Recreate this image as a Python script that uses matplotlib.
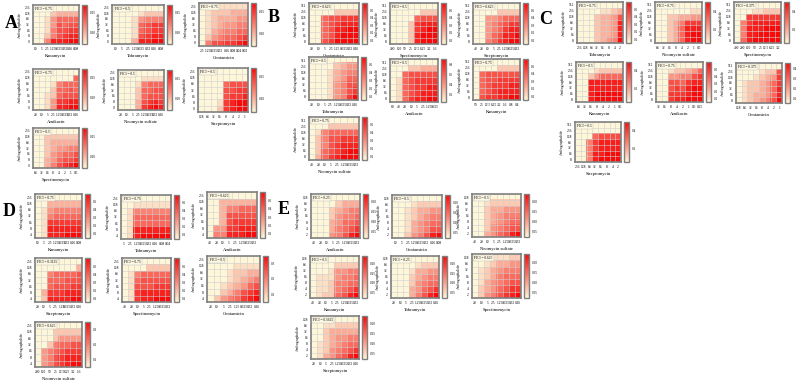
import matplotlib
matplotlib.use('Agg')
import matplotlib.pyplot as plt
import numpy as np
from matplotlib.colors import LinearSegmentedColormap

# ---------------- DATA (OD600 x 100) ----------------
A1 = [[7,7,7,7,7,7,7,7],[7,7,7,9,10,10,10,10],[7,7,8,11,13,13,13,13],[7,7,8,11,14,13,14,14],
      [7,7,8,12,14,14,15,15],[7,7,9,12,14,15,16,16],[7,7,12,16,16,16,17,17]]
A2 = [[7,7,7,7,7,7,7,7],[7,7,7,7,8,9,9,9],[7,7,7,8,11,12,12,12],[7,7,7,8,13,14,15,15],
      [7,7,7,8,13,14,15,15],[7,7,7,8,14,15,16,16],[7,7,7,10,16,16,17,17]]
A3 = [[7,7,8,8,8,8,8,8],[7,8,9,9,9,10,10,10],[7,8,9,10,10,10,11,11],[7,8,9,10,11,11,12,12],
      [7,8,10,11,12,12,13,13],[7,9,11,12,13,13,14,15],[7,12,14,14,15,15,16,17]]
A4 = [[7,7,7,7,7,7,7,7],[7,7,7,7,7,7,7,13],[7,7,7,8,12,13,13,13],[7,7,7,9,13,13,14,13],
      [7,7,8,9,13,14,14,14],[7,7,8,11,15,15,16,16],[7,7,8,11,16,16,17,17]]
A5 = [[7,7,7,7,7,7,7,7],[7,7,7,7,8,8,8,8],[7,7,7,8,12,13,13,13],[7,7,7,9,13,13,14,14],
      [7,7,7,9,13,14,14,14],[7,7,7,10,14,15,16,15],[7,7,7,10,15,16,17,16]]
A6 = [[7,7,7,7,7,7,7,7],[7,7,7,7,7,7,7,7],[7,7,7,7,13,14,14,14],[7,7,7,7,14,14,15,15],
      [7,7,7,7,14,15,15,16],[7,7,7,8,15,16,17,17],[7,7,7,9,15,16,17,17]]
A7 = [[7,7,7,7,7,7,7,7],[7,7,9,9,9,9,9,9],[7,7,9,10,10,10,10,10],[7,7,9,10,11,11,12,12],
      [7,7,9,11,12,13,13,14],[7,7,10,11,13,14,14,15],[7,7,10,12,14,15,16,17]]

B1 = [[5]*8,[5,5,5,5,16,16,16,16],[5,5,38,43,43,49,49,49],[5,5,38,43,49,54,54,54],
      [5,5,38,43,54,54,60,60],[5,5,38,43,54,60,60,60],[5,5,43,49,60,60,60,60]]
B2 = [[5]*8,[5,5,5,5,5,16,16,16],[5,5,5,5,38,43,43,43],[5,5,5,16,49,54,54,54],
      [5,5,5,16,49,54,60,60],[5,5,5,16,54,60,60,60],[5,5,5,16,54,60,60,60]]
B3 = [[5]*8,[5,5,5,5,16,16,16,16],[5,5,27,27,32,38,38,38],[5,5,27,32,38,43,49,49],
      [5,5,27,32,38,49,54,54],[5,5,27,38,43,54,54,60],[5,5,32,38,49,54,60,60]]
B4 = [[5]*8,[5,5,5,5,16,21,27,27],[5,5,5,10,21,27,32,32],[5,5,5,10,21,27,38,38],
      [5,5,5,10,27,32,43,43],[5,5,5,10,27,32,43,49],[5,5,5,10,27,32,49,60]]
B5 = [[5]*8,[5,5,5,22,22,31,31,31],[5,5,56,65,65,65,65,65],[5,14,56,65,73,73,73,73],
      [5,14,56,65,73,73,82,82],[5,14,56,65,73,82,82,82],[5,14,56,73,82,82,90,90]]
B6 = [[5]*8,[5,5,5,5,16,16,16,16],[5,38,43,43,43,43,43,43],[5,38,43,43,49,49,49,49],
      [5,38,43,49,49,49,54,54],[5,38,43,49,54,54,54,54],[5,43,49,49,54,54,60,60]]
B7 = [[5]*8,[5,5,5,16,16,16,16,16],[5,10,32,38,38,38,38,38],[5,16,32,43,43,49,49,49],
      [5,16,32,43,49,54,54,54],[5,16,38,43,49,54,60,60],[5,21,38,49,54,60,60,60]]

C1 = [[5]*8,[5,5,5,5,10,10,16,21],[5,5,5,16,21,21,27,43],[5,5,5,16,21,21,27,54],
      [5,5,5,16,21,21,27,54],[5,5,5,16,21,21,27,54],[5,5,5,16,21,27,32,60]]
C2 = [[5]*8,[5,5,5,5,5,5,10,10],[5,5,14,14,19,19,23,23],[5,5,14,19,28,41,41,41],
      [5,5,14,19,32,46,46,46],[5,5,14,19,32,46,50,50],[5,5,14,19,32,46,50,50]]
C3 = [[5]*8,[5,5,5,10,10,14,14,14],[5,5,41,41,41,41,41,41],[5,28,41,46,46,46,46,46],
      [5,28,46,46,46,50,50,50],[5,28,46,46,50,50,50,50],[5,32,46,50,50,50,50,50]]
C4 = [[5]*8,[5,5,5,10,14,14,14,14],[5,5,14,23,32,32,32,32],[5,5,46,46,46,46,46,46],
      [5,5,46,46,46,46,46,46],[5,5,46,50,50,50,50,50],[5,5,46,50,50,50,50,50]]
C5 = [[5]*8,[5,5,10,16,16,21,27,38],[5,5,27,27,32,32,43,49],[5,5,43,43,38,49,54,54],
      [5,5,43,49,43,54,60,60],[5,5,49,49,49,54,60,60],[5,5,49,54,54,60,60,60]]
C6 = [[5]*8,[5,5,5,5,9,13,13,33],[5,5,5,9,13,17,21,37],[5,9,13,13,17,21,29,37],
      [5,9,13,13,17,21,29,41],[5,9,13,17,17,21,29,41],[5,9,13,17,21,25,33,45]]
C7 = [[5]*8,[5]*8,[5,5,5,32,37,37,37,37],[5,5,28,41,46,46,46,46],
      [5,5,28,41,46,46,46,46],[5,5,28,46,46,50,50,50],[5,5,28,46,50,50,50,50]]

D1 = [[5]*8,[5,5,21,21,21,21,21,21],[5,10,27,32,32,32,32,32],[5,10,32,38,38,38,38,38],
      [5,10,49,49,49,49,49,49],[5,10,54,54,54,54,54,54],[5,10,54,54,54,60,60,60]]
D2 = [[5]*8,[5,5,10,10,10,10,10,10],[5,10,32,32,32,32,32,32],[5,10,38,38,38,38,38,38],
      [5,10,38,38,38,38,38,38],[5,10,54,54,54,54,54,54],[5,10,54,60,60,60,60,60]]
D3 = [[5]*8,[5,5,21,21,21,21,21,21],[5,5,21,32,32,38,38,38],[5,5,21,43,43,43,43,43],
      [5,5,21,43,49,49,49,49],[5,27,27,49,49,54,54,54],[5,32,32,54,54,54,60,60]]
D4 = [[5]*8,[5,5,5,5,5,5,5,21],[5,5,32,38,38,38,38,43],[5,5,38,38,38,43,43,43],
      [5,5,38,43,43,43,49,49],[5,21,49,49,49,54,54,54],[5,16,54,54,54,54,60,60]]
D5 = [[5]*8,[5,5,5,5,16,16,16,16],[5,10,32,38,38,38,38,38],[5,10,38,43,43,43,43,43],
      [5,10,43,43,43,49,49,49],[5,10,49,54,54,54,54,54],[5,10,49,54,54,60,60,60]]
D6 = [[5]*8,[5,5,5,5,8,8,8,8],[5,5,5,8,11,11,14,14],[5,5,5,8,11,14,17,20],
      [5,5,8,11,14,17,23,26],[5,5,11,14,20,26,29,32],[5,11,17,20,23,29,32,35]]
D7 = [[5]*8,[5,5,5,11,11,11,11,11],[5,5,5,11,17,17,17,17],[5,5,11,20,23,23,26,26],
      [5,17,20,23,26,29,29,29],[5,17,20,26,29,32,32,32],[5,17,20,26,29,32,35,35]]

E1 = [[2]*8,[2,2,2,2,6,9,9,9],[2,2,2,6,9,11,13,13],[2,2,2,6,11,13,13,15],
      [2,2,2,9,11,15,15,17],[2,2,2,9,13,15,17,20],[2,2,2,11,13,17,22,24]]
E2 = [[2]*8,[2,2,2,4,6,6,6,6],[2,2,4,6,9,9,11,11],[2,2,4,6,9,11,13,13],
      [2,2,4,9,11,13,15,15],[2,2,4,9,11,13,17,17],[2,2,6,11,13,17,22,24]]
E3 = [[2]*8,[2,2,4,6,6,6,6,6],[2,2,6,9,9,11,11,11],[2,2,6,9,11,13,13,13],
      [2,2,6,9,11,13,15,15],[2,2,6,11,13,15,17,17],[2,2,9,11,15,17,22,24]]
E4 = [[2]*8,[2,2,2,2,6,6,6,6],[2,2,2,4,11,11,13,13],[2,4,4,4,11,13,13,15],
      [2,4,4,6,13,13,15,15],[2,4,4,6,13,15,17,20],[2,4,6,6,15,17,22,24]]
E5 = [[2]*8,[2,2,2,2,4,6,6,6],[2,2,2,4,9,9,11,11],[2,2,2,6,9,11,13,13],
      [2,2,2,6,11,13,15,15],[2,2,2,9,11,15,17,20],[2,2,2,9,13,17,22,24]]
E6 = [[2,2,2,4,4,4,6,6],[2,2,4,6,9,9,11,11],[2,4,6,9,11,13,13,13],[2,4,6,9,13,15,15,15],
      [2,4,9,11,13,15,17,17],[2,6,9,11,15,17,20,20],[2,6,11,13,17,20,22,24]]
E7 = [[2]*8,[2,2,4,4,6,6,6,6],[2,2,6,9,9,9,9,9],[2,2,6,9,11,11,13,13],
      [2,4,6,9,11,13,15,15],[2,4,6,11,13,15,17,20],[2,4,9,11,15,17,22,24]]

A_xlabels = ['Kanamycin', 'Tobramycin', 'Gentamicin', 'Amikacin', 'Neomycin sulfate', 'Streptomycin', 'Spectinomycin']
B_xlabels = ['Gentamicin', 'Spectinomycin', 'Streptomycin', 'Tobramycin', 'Amikacin', 'Kanamycin', 'Neomycin sulfate']
C_xlabels = ['Tobramycin', 'Neomycin sulfate', 'Spectinomycin', 'Kanamycin', 'Amikacin', 'Gentamicin', 'Streptomycin']
D_xlabels = ['Kanamycin', 'Tobramycin', 'Amikacin', 'Streptomycin', 'Spectinomycin', 'Gentamicin', 'Neomycin sulfate']
E_xlabels = ['Amikacin', 'Gentamicin', 'Neomycin sulfate', 'Kanamycin', 'Tobramycin', 'Spectinomycin', 'Streptomycin']

A_fici = ['0.75', '0.5', '0.75', '0.75', '0.5', '0.5', '0.5']
B_fici = ['0.625', '0.5', '0.625', '0.5', '0.5', '0.75', '0.75']
C_fici = ['0.75', '0.75', '0.375', '0.5', '0.75', '0.375', '0.5']
D_fici = ['0.75', '0.75', '0.625', '0.3125', '0.75', '0.5', '0.625']
E_fici = ['0.25', '0.5', '0.5', '0.5', '0.25', '0.625', '0.5625']

A_yticks = ['256', '128', '64', '32', '16', '8', '0']
B_yticks = ['512', '256', '128', '64', '32', '16', '8']
C_yticks = ['512', '256', '128', '64', '32', '16', '8']
D_yticks = ['256', '128', '64', '32', '16', '8', '4']
E_yticks = ['128', '64', '32', '16', '8', '4', '2']

S10 = ['10', '5', '2.5', '1.25', '0.625', '0.32', '0.16', '0.08']
S20 = ['20', '10', '5', '2.5', '1.25', '0.625', '0.32', '0.16']
S40 = ['40', '20', '10', '5', '2.5', '1.25', '0.625', '0.32']
A_xticks = [S10, S10, ['2.5', '1.25', '0.625', '0.32', '0.16', '0.08', '0.04', '0.02'], S20, S20,
            ['128', '64', '32', '16', '8', '4', '2', '1'], ['64', '32', '16', '8', '4', '2', '1', '0.5']]
B_xticks = [S20, ['200', '100', '50', '25', '12.5', '6.25', '3.2', '1.6'], S40, S20,
            ['80', '40', '20', '10', '5', '2.5', '1.25', '0.625'],
            ['50', '25', '12.5', '6.25', '3.2', '1.6', '0.8', '0.4'], S40]
C_xticks = [['256', '128', '64', '32', '16', '8', '4', '2'], ['64', '32', '16', '8', '4', '2', '1', '0.5'],
            ['400', '200', '100', '50', '25', '12.5', '6.25', '3.2'], ['64', '32', '16', '8', '4', '2', '1', '0.5'],
            ['32', '16', '8', '4', '2', '1', '0.5', '0.25'], ['128', '64', '32', '16', '8', '4', '2', '1'],
            ['256', '128', '64', '32', '16', '8', '4', '2']]
D_xticks = [S10, ['5', '2.5', '1.25', '0.625', '0.32', '0.16', '0.08', '0.04'], S40, S20, S40, S20,
            ['200', '100', '50', '25', '12.5', '6.25', '3.2', '1.6']]
E_xticks = [S40, S10, S40, S40, S20, S20, S20]

T5 = [0.1, 0.2, 0.3, 0.4, 0.5]
A_cticks = [[0.10, 0.15]] * 7
B_cticks = [T5, T5, T5, T5, [0.2, 0.4, 0.6, 0.8], T5, T5]
C_cticks = [T5, [0.2, 0.4], [0.2, 0.4], [0.2, 0.4], T5, [0.1, 0.2, 0.3, 0.4], [0.2, 0.4]]
D_cticks = [T5, T5, T5, T5, T5, [0.1, 0.2, 0.3], [0.1, 0.2, 0.3]]
E_cticks = [[0.05, 0.10, 0.15, 0.20]] * 7

A_vals = [A1, A2, A3, A4, A5, A6, A7]
B_vals = [B1, B2, B3, B4, B5, B6, B7]
C_vals = [C1, C2, C3, C4, C5, C6, C7]
D_vals = [D1, D2, D3, D4, D5, D6, D7]
E_vals = [E1, E2, E3, E4, E5, E6, E7]

# ---------------- LAYOUT (pixel boxes x0, y0, x1, y1) ----------------
A_boxes = [(33, 5, 79, 44), (112, 5, 164, 44), (199, 3, 248, 46), (33, 69, 79, 110),
           (118, 70, 164, 110), (198, 68, 248, 112), (33, 128, 79, 168)]
B_boxes = [(309, 3, 359, 44), (390, 3, 438, 44), (473, 3, 520, 44), (309, 57, 358, 100),
           (390, 59, 438, 102), (473, 59, 520, 100), (309, 117, 359, 160)]
C_boxes = [(577, 2, 623, 43), (655, 2, 702, 43), (734, 2, 781, 43), (576, 62, 623, 102),
           (656, 62, 703, 102), (736, 63, 782, 103), (575, 122, 621, 162)]
D_boxes = [(35, 194, 82, 238), (121, 195, 171, 239), (207, 192, 257, 238), (35, 258, 82, 302),
           (122, 258, 171, 302), (207, 256, 260, 302), (35, 322, 82, 367)]
E_boxes = [(311, 194, 360, 238), (392, 195, 442, 238), (472, 194, 521, 237), (310, 256, 359, 298),
           (391, 256, 439, 298), (472, 254, 521, 298), (311, 316, 359, 359)]
letters = [('A', 11, 23), ('B', 274, 18), ('C', 546, 19), ('D', 9, 212), ('E', 284, 209)]

W, H = 798, 380
SERIF = ['Liberation Serif', 'DejaVu Serif']
plt.rcParams['font.family'] = SERIF

fig = plt.figure(figsize=(W / 100, H / 100), dpi=100)
fig.patch.set_facecolor('white')
cmap = LinearSegmentedColormap.from_list('fici', ['#FDF6D8', '#F80A0A'])
FRAME = '#808080'


def rect(box):
    x0, y0, x1, y1 = box
    return [x0 / W, 1 - y1 / H, (x1 - x0) / W, (y1 - y0) / H]


def panel(box, vals, xt, yt, xlabel, fici, cticks):
    ax = fig.add_axes(rect(box))
    data = np.array(vals, dtype=float) / 100.0
    nr, nc = data.shape
    im = ax.imshow(data, cmap=cmap, vmin=data.min(), vmax=data.max(),
                   aspect='auto', interpolation='nearest')
    ax.set_xticks(np.arange(nc))
    ax.set_xticklabels(xt)
    ax.set_yticks(np.arange(nr))
    ax.set_yticklabels(yt)
    ax.set_xticks(np.arange(nc + 1) - 0.5, minor=True)
    ax.set_yticks(np.arange(nr + 1) - 0.5, minor=True)
    ax.grid(which='minor', color='#d0d0d0', lw=0.4)
    ax.grid(which='major', visible=False)
    ax.tick_params(which='minor', length=0)
    ax.tick_params(which='major', length=1.0, width=0.3, labelsize=2.6, pad=1.2, color='#555555')
    for s in ax.spines.values():
        s.set_color(FRAME)
        s.set_linewidth(1.2)
    ax.set_xlabel(xlabel, fontsize=3.3, labelpad=2.2)
    ax.set_ylabel('Andrographolide', fontsize=2.8, labelpad=1.8)
    ax.text(0.05, 0.95, f'FICI = {fici}', transform=ax.transAxes, fontsize=2.6,
            ha='left', va='top',
            bbox=dict(boxstyle='square,pad=0.25', facecolor='#FDF8E4', edgecolor='#bbbbbb', lw=0.3))
    cax = fig.add_axes(rect((box[2] + 3, box[1], box[2] + 8, box[3])))
    cb = fig.colorbar(im, cax=cax)
    cb.set_ticks(cticks)
    fmt = '%.2f' if min(cticks) < 0.1 or 0.15 in cticks else '%.1f'
    cb.set_ticklabels([fmt % t for t in cticks])
    cb.ax.tick_params(length=1.0, width=0.3, labelsize=2.4, pad=1)
    cb.outline.set_edgecolor(FRAME)
    cb.outline.set_linewidth(1.0)


groups = [
    (A_boxes, A_vals, A_xticks, A_yticks, A_xlabels, A_fici, A_cticks),
    (B_boxes, B_vals, B_xticks, B_yticks, B_xlabels, B_fici, B_cticks),
    (C_boxes, C_vals, C_xticks, C_yticks, C_xlabels, C_fici, C_cticks),
    (D_boxes, D_vals, D_xticks, D_yticks, D_xlabels, D_fici, D_cticks),
    (E_boxes, E_vals, E_xticks, E_yticks, E_xlabels, E_fici, E_cticks),
]
for boxes, vals, xts, yt, xls, fis, cts in groups:
    for i in range(len(boxes)):
        panel(boxes[i], vals[i], xts[i], yt, xls[i], fis[i], cts[i])

for letter, lx, ly in letters:
    fig.text(lx / W, 1 - ly / H, letter, fontsize=13, fontweight='bold',
             ha='center', va='center', family=SERIF)

fig.savefig('out.png', dpi=100, facecolor='white')
